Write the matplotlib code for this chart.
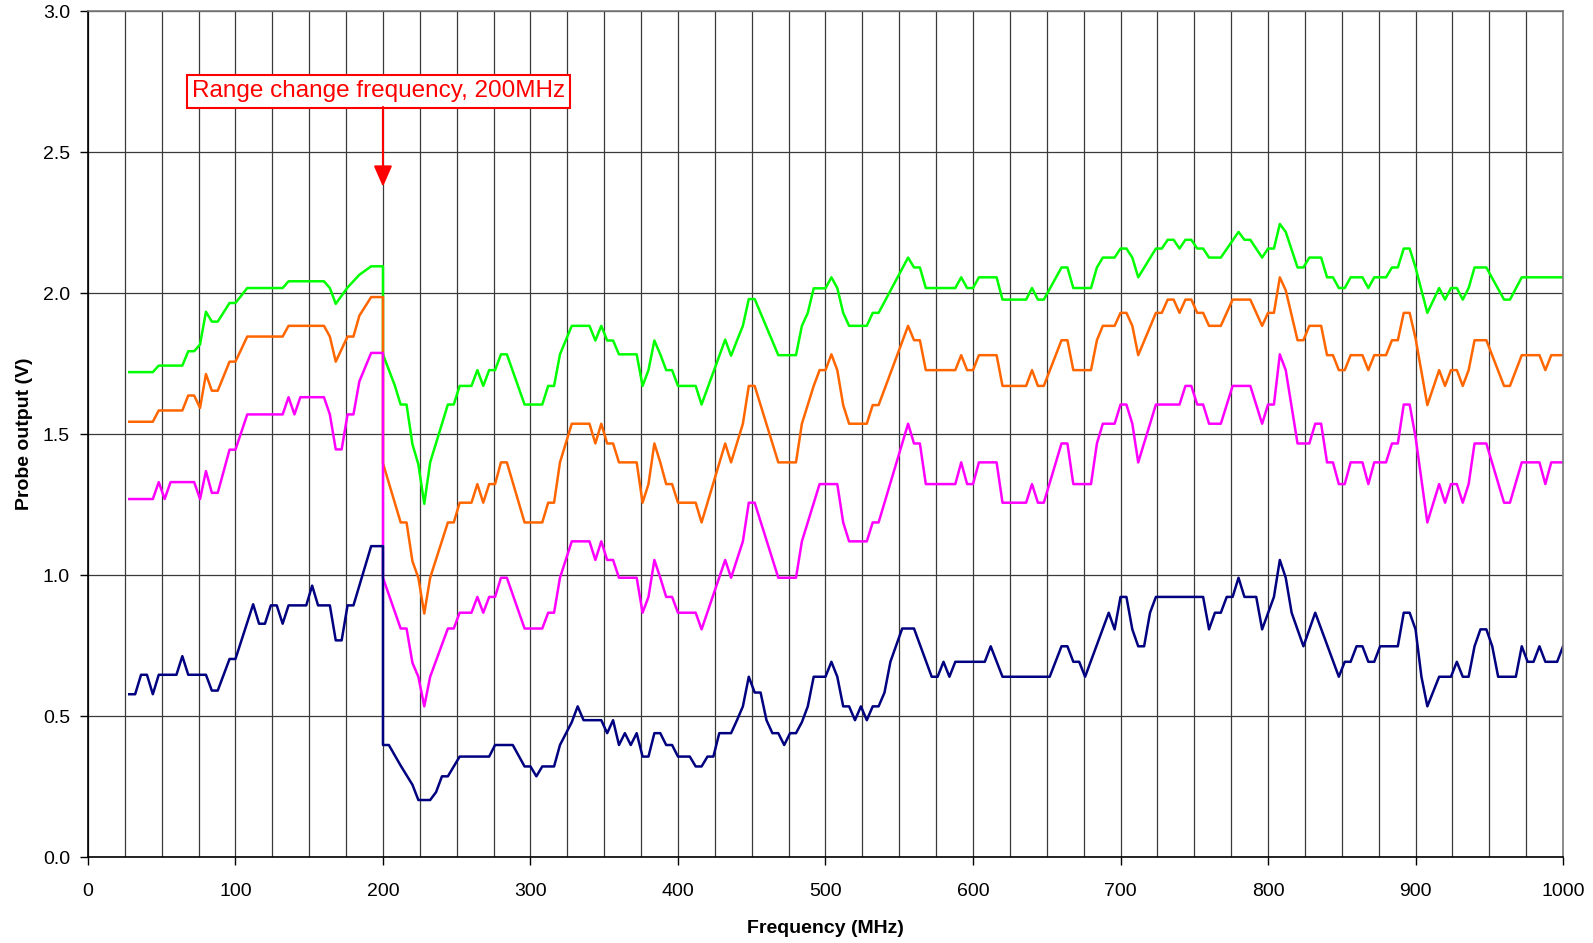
import numpy as np
import matplotlib
matplotlib.use("Agg")
import matplotlib.pyplot as plt

plt.rcParams['font.family'] = ['Liberation Sans', 'DejaVu Sans']

# probe output vs frequency, 4 traces (vertices)
freq_green = [28, 44, 48, 64, 68, 72, 76, 80, 84, 88,
              96, 100, 108, 132, 136, 160, 164, 168, 176, 184,
              188, 192, 200, 200, 208, 212, 216, 220, 224, 228,
              232, 244, 248, 252, 260, 264, 268, 272, 276, 280,
              284, 296, 308, 312, 316, 320, 328, 340, 344, 348,
              352, 356, 360, 372, 376, 380, 384, 388, 392, 396,
              400, 412, 416, 432, 436, 440, 444, 448, 452, 468,
              480, 484, 488, 492, 500, 504, 508, 512, 516, 528,
              532, 536, 556, 560, 564, 568, 588, 592, 596, 600,
              604, 616, 620, 636, 640, 644, 648, 660, 664, 668,
              680, 684, 688, 696, 700, 704, 708, 712, 724, 728,
              732, 736, 740, 744, 748, 752, 756, 760, 768, 780,
              784, 788, 796, 800, 804, 808, 812, 820, 824, 828,
              836, 840, 844, 848, 852, 856, 864, 868, 872, 880,
              884, 888, 892, 896, 900, 908, 916, 920, 924, 928,
              932, 936, 940, 948, 960, 964, 972, 1000]
volt_green = [1.720, 1.720, 1.743, 1.743, 1.794, 1.794, 1.818, 1.934, 1.899, 1.899,
              1.965, 1.965, 2.018, 2.018, 2.042, 2.042, 2.018, 1.962, 2.020, 2.065,
              2.080, 2.095, 2.095, 1.783, 1.673, 1.605, 1.605, 1.464, 1.393, 1.253,
              1.400, 1.605, 1.605, 1.671, 1.671, 1.727, 1.671, 1.727, 1.727, 1.783,
              1.783, 1.605, 1.605, 1.671, 1.671, 1.783, 1.884, 1.884, 1.832, 1.884,
              1.832, 1.832, 1.783, 1.783, 1.671, 1.727, 1.832, 1.783, 1.727, 1.727,
              1.671, 1.671, 1.605, 1.835, 1.778, 1.832, 1.884, 1.979, 1.979, 1.780,
              1.780, 1.884, 1.930, 2.017, 2.017, 2.056, 2.018, 1.930, 1.884, 1.884,
              1.930, 1.930, 2.126, 2.091, 2.091, 2.018, 2.018, 2.056, 2.018, 2.018,
              2.056, 2.056, 1.977, 1.977, 2.018, 1.977, 1.977, 2.091, 2.091, 2.018,
              2.018, 2.091, 2.126, 2.126, 2.158, 2.158, 2.126, 2.056, 2.158, 2.158,
              2.189, 2.189, 2.158, 2.189, 2.189, 2.158, 2.158, 2.126, 2.126, 2.217,
              2.189, 2.189, 2.126, 2.158, 2.158, 2.245, 2.217, 2.091, 2.091, 2.126,
              2.126, 2.056, 2.056, 2.018, 2.018, 2.056, 2.056, 2.018, 2.056, 2.056,
              2.091, 2.091, 2.158, 2.158, 2.091, 1.930, 2.018, 1.977, 2.018, 2.018,
              1.977, 2.018, 2.091, 2.091, 1.977, 1.977, 2.056, 2.056]

freq_orange = [28, 44, 48, 64, 68, 72, 76, 80, 84, 88,
               96, 100, 108, 132, 136, 160, 164, 168, 176, 180,
               184, 192, 200, 200, 208, 212, 216, 220, 224, 228,
               232, 244, 248, 252, 260, 264, 268, 272, 276, 280,
               284, 296, 308, 312, 316, 320, 328, 340, 344, 348,
               352, 356, 360, 372, 376, 380, 384, 388, 392, 396,
               400, 412, 416, 432, 436, 444, 448, 452, 468, 480,
               484, 492, 496, 500, 504, 508, 512, 516, 528, 532,
               536, 556, 560, 564, 568, 588, 592, 596, 600, 604,
               616, 620, 636, 640, 644, 648, 660, 664, 668, 680,
               684, 688, 696, 700, 704, 708, 712, 724, 728, 732,
               736, 740, 744, 748, 752, 756, 760, 768, 776, 788,
               796, 800, 804, 808, 812, 820, 824, 828, 836, 840,
               844, 848, 852, 856, 864, 868, 872, 880, 884, 888,
               892, 896, 900, 908, 916, 920, 924, 928, 932, 936,
               940, 948, 960, 964, 972, 984, 988, 992, 1000]
volt_orange = [1.544, 1.544, 1.584, 1.584, 1.637, 1.637, 1.593, 1.713, 1.654, 1.654,
               1.757, 1.757, 1.846, 1.846, 1.884, 1.884, 1.846, 1.757, 1.846, 1.846,
               1.920, 1.986, 1.986, 1.397, 1.257, 1.187, 1.187, 1.049, 0.991, 0.864,
               0.991, 1.187, 1.187, 1.257, 1.257, 1.323, 1.257, 1.323, 1.323, 1.400,
               1.400, 1.187, 1.187, 1.257, 1.257, 1.400, 1.537, 1.537, 1.467, 1.537,
               1.467, 1.467, 1.400, 1.400, 1.257, 1.323, 1.467, 1.400, 1.323, 1.323,
               1.257, 1.257, 1.187, 1.467, 1.400, 1.537, 1.671, 1.671, 1.400, 1.400,
               1.537, 1.671, 1.727, 1.727, 1.783, 1.727, 1.603, 1.537, 1.537, 1.603,
               1.603, 1.884, 1.833, 1.833, 1.727, 1.727, 1.780, 1.727, 1.727, 1.780,
               1.780, 1.671, 1.671, 1.727, 1.671, 1.671, 1.833, 1.833, 1.727, 1.727,
               1.833, 1.884, 1.884, 1.930, 1.930, 1.884, 1.780, 1.930, 1.930, 1.977,
               1.977, 1.930, 1.977, 1.977, 1.930, 1.930, 1.884, 1.884, 1.977, 1.977,
               1.884, 1.930, 1.930, 2.056, 2.010, 1.833, 1.833, 1.884, 1.884, 1.780,
               1.780, 1.727, 1.727, 1.780, 1.780, 1.727, 1.780, 1.780, 1.833, 1.833,
               1.930, 1.930, 1.840, 1.603, 1.727, 1.671, 1.727, 1.727, 1.671, 1.727,
               1.833, 1.833, 1.671, 1.671, 1.780, 1.780, 1.727, 1.780, 1.780]

freq_magenta = [28, 44, 48, 52, 56, 72, 76, 80, 84, 88,
                96, 100, 108, 132, 136, 140, 144, 160, 164, 168,
                172, 176, 180, 184, 192, 200, 200, 208, 212, 216,
                220, 224, 228, 232, 244, 248, 252, 260, 264, 268,
                272, 276, 280, 284, 296, 308, 312, 316, 320, 328,
                340, 344, 348, 352, 356, 360, 372, 376, 380, 384,
                388, 392, 396, 400, 412, 416, 432, 436, 444, 448,
                452, 468, 480, 484, 496, 508, 512, 516, 528, 532,
                536, 556, 560, 564, 568, 588, 592, 596, 600, 604,
                616, 620, 636, 640, 644, 648, 660, 664, 668, 680,
                684, 688, 696, 700, 704, 708, 712, 724, 740, 744,
                748, 752, 756, 760, 768, 776, 788, 796, 800, 804,
                808, 812, 820, 828, 832, 836, 840, 844, 848, 852,
                856, 864, 868, 872, 880, 884, 888, 892, 896, 900,
                908, 916, 920, 924, 928, 932, 936, 940, 948, 960,
                964, 972, 984, 988, 992, 1000]
volt_magenta = [1.270, 1.270, 1.330, 1.270, 1.330, 1.330, 1.270, 1.369, 1.292, 1.292,
                1.445, 1.445, 1.570, 1.570, 1.631, 1.570, 1.631, 1.631, 1.570, 1.446,
                1.446, 1.570, 1.570, 1.687, 1.788, 1.788, 0.991, 0.871, 0.811, 0.811,
                0.689, 0.640, 0.535, 0.640, 0.811, 0.811, 0.867, 0.867, 0.923, 0.867,
                0.923, 0.923, 0.991, 0.991, 0.811, 0.811, 0.867, 0.867, 0.991, 1.120,
                1.120, 1.054, 1.120, 1.054, 1.054, 0.991, 0.991, 0.867, 0.923, 1.054,
                0.991, 0.923, 0.923, 0.867, 0.867, 0.808, 1.054, 0.991, 1.120, 1.257,
                1.257, 0.991, 0.991, 1.120, 1.323, 1.323, 1.187, 1.120, 1.120, 1.187,
                1.187, 1.537, 1.467, 1.467, 1.323, 1.323, 1.400, 1.323, 1.323, 1.400,
                1.400, 1.257, 1.257, 1.323, 1.257, 1.257, 1.467, 1.467, 1.323, 1.323,
                1.467, 1.537, 1.537, 1.605, 1.605, 1.537, 1.400, 1.605, 1.605, 1.671,
                1.671, 1.605, 1.605, 1.537, 1.537, 1.671, 1.671, 1.537, 1.605, 1.605,
                1.783, 1.727, 1.467, 1.467, 1.537, 1.537, 1.400, 1.400, 1.323, 1.323,
                1.400, 1.400, 1.323, 1.400, 1.400, 1.467, 1.467, 1.605, 1.605, 1.490,
                1.187, 1.323, 1.257, 1.323, 1.323, 1.257, 1.323, 1.467, 1.467, 1.257,
                1.257, 1.400, 1.400, 1.323, 1.400, 1.400]

freq_navy = [28, 32, 36, 40, 44, 48, 60, 64, 68, 80,
             84, 88, 96, 100, 112, 116, 120, 124, 128, 132,
             136, 148, 152, 156, 164, 168, 172, 176, 180, 192,
             200, 200, 204, 212, 220, 224, 232, 236, 240, 244,
             252, 272, 276, 288, 292, 296, 300, 304, 308, 316,
             320, 328, 332, 336, 348, 352, 356, 360, 364, 368,
             372, 376, 380, 384, 388, 392, 396, 400, 408, 412,
             416, 420, 424, 428, 436, 440, 444, 448, 452, 456,
             460, 464, 468, 472, 476, 480, 484, 488, 492, 500,
             504, 508, 512, 516, 520, 524, 528, 532, 536, 540,
             544, 552, 560, 572, 576, 580, 584, 588, 608, 612,
             620, 652, 660, 664, 668, 672, 676, 692, 696, 700,
             704, 708, 712, 716, 720, 724, 756, 760, 764, 768,
             772, 776, 780, 784, 792, 796, 804, 808, 812, 816,
             824, 832, 848, 852, 856, 860, 864, 868, 872, 876,
             888, 892, 896, 900, 904, 908, 916, 924, 928, 932,
             936, 940, 944, 948, 952, 956, 968, 972, 976, 980,
             984, 988, 996, 1000]
volt_navy = [0.578, 0.578, 0.647, 0.647, 0.578, 0.647, 0.647, 0.713, 0.647, 0.647,
             0.591, 0.591, 0.703, 0.703, 0.897, 0.828, 0.828, 0.893, 0.893, 0.828,
             0.893, 0.893, 0.963, 0.893, 0.893, 0.769, 0.769, 0.893, 0.893, 1.103,
             1.103, 0.398, 0.398, 0.325, 0.257, 0.203, 0.203, 0.231, 0.287, 0.287,
             0.357, 0.357, 0.398, 0.398, 0.360, 0.322, 0.322, 0.287, 0.322, 0.322,
             0.398, 0.479, 0.535, 0.486, 0.486, 0.440, 0.486, 0.398, 0.440, 0.398,
             0.440, 0.357, 0.357, 0.440, 0.440, 0.398, 0.398, 0.357, 0.357, 0.322,
             0.322, 0.357, 0.357, 0.440, 0.440, 0.486, 0.535, 0.640, 0.584, 0.584,
             0.486, 0.440, 0.440, 0.398, 0.440, 0.440, 0.479, 0.535, 0.640, 0.640,
             0.693, 0.640, 0.535, 0.535, 0.486, 0.535, 0.486, 0.535, 0.535, 0.584,
             0.693, 0.811, 0.811, 0.640, 0.640, 0.693, 0.640, 0.693, 0.693, 0.748,
             0.640, 0.640, 0.748, 0.748, 0.693, 0.693, 0.640, 0.867, 0.808, 0.923,
             0.923, 0.808, 0.748, 0.748, 0.867, 0.923, 0.923, 0.808, 0.867, 0.867,
             0.923, 0.923, 0.991, 0.923, 0.923, 0.808, 0.923, 1.054, 0.991, 0.867,
             0.748, 0.867, 0.640, 0.693, 0.693, 0.748, 0.748, 0.693, 0.693, 0.748,
             0.748, 0.867, 0.867, 0.808, 0.640, 0.535, 0.640, 0.640, 0.693, 0.640,
             0.640, 0.748, 0.808, 0.808, 0.748, 0.640, 0.640, 0.748, 0.693, 0.693,
             0.748, 0.693, 0.693, 0.748]

range_change = 200
note_text = "Range change frequency, 200MHz"

fig = plt.figure(figsize=(15.93, 9.43), dpi=100)
ax = fig.add_axes([0.0552, 0.0909, 0.9260, 0.8974])

ax.plot(freq_green, volt_green, color='#00FF00', lw=1.8)
ax.plot(freq_orange, volt_orange, color='#FF6600', lw=1.8)
ax.plot(freq_magenta, volt_magenta, color='#FF00FF', lw=1.8)
ax.plot(freq_navy, volt_navy, color='#000080', lw=1.8)

ax.set_xlim(0, 1000)
ax.set_ylim(0, 3.0)
ax.set_xticks(np.arange(0, 1001, 100))
ax.set_xticks(np.arange(0, 1001, 25), minor=True)
ax.set_yticks(np.arange(0, 3.01, 0.5))
ax.set_yticklabels(['%.1f' % v for v in np.arange(0, 3.01, 0.5)])
ax.grid(which='both', color='#3a3a3a', lw=0.9)
ax.set_axisbelow(True)
ax.tick_params(axis='both', which='major', direction='out', length=6,
               width=1, labelsize=14, color='black')
ax.tick_params(axis='x', which='major', pad=12.5)
ax.tick_params(axis='y', which='major', pad=7)
ax.tick_params(axis='x', which='minor', length=0)
for s in ['left', 'bottom']:
    ax.spines[s].set_color('black')
    ax.spines[s].set_linewidth(1.2)
for s in ['top', 'right']:
    ax.spines[s].set_color('#7a7a7a')
    ax.spines[s].set_linewidth(1.2)

ax.set_xlabel('Frequency (MHz)', fontsize=14, fontweight='bold')
ax.set_ylabel('Probe output (V)', fontsize=14, fontweight='bold')
ax.xaxis.set_label_coords(0.5, -0.074)
ax.yaxis.set_label_coords(-0.037, 0.5)

ax.text(197.0, 2.715, note_text, color='red', fontsize=17.5, ha='center', va='center',
        bbox=dict(boxstyle='square,pad=0.22', fc='white', ec='red', lw=1.5))
ax.annotate('', xy=(range_change, 2.377), xytext=(range_change, 2.66),
            arrowprops=dict(arrowstyle='-|>,head_length=0.8,head_width=0.35',
                            color='red', lw=1.5, shrinkA=0, shrinkB=0,
                            mutation_scale=16))

fig.savefig('out.png', dpi=100)
